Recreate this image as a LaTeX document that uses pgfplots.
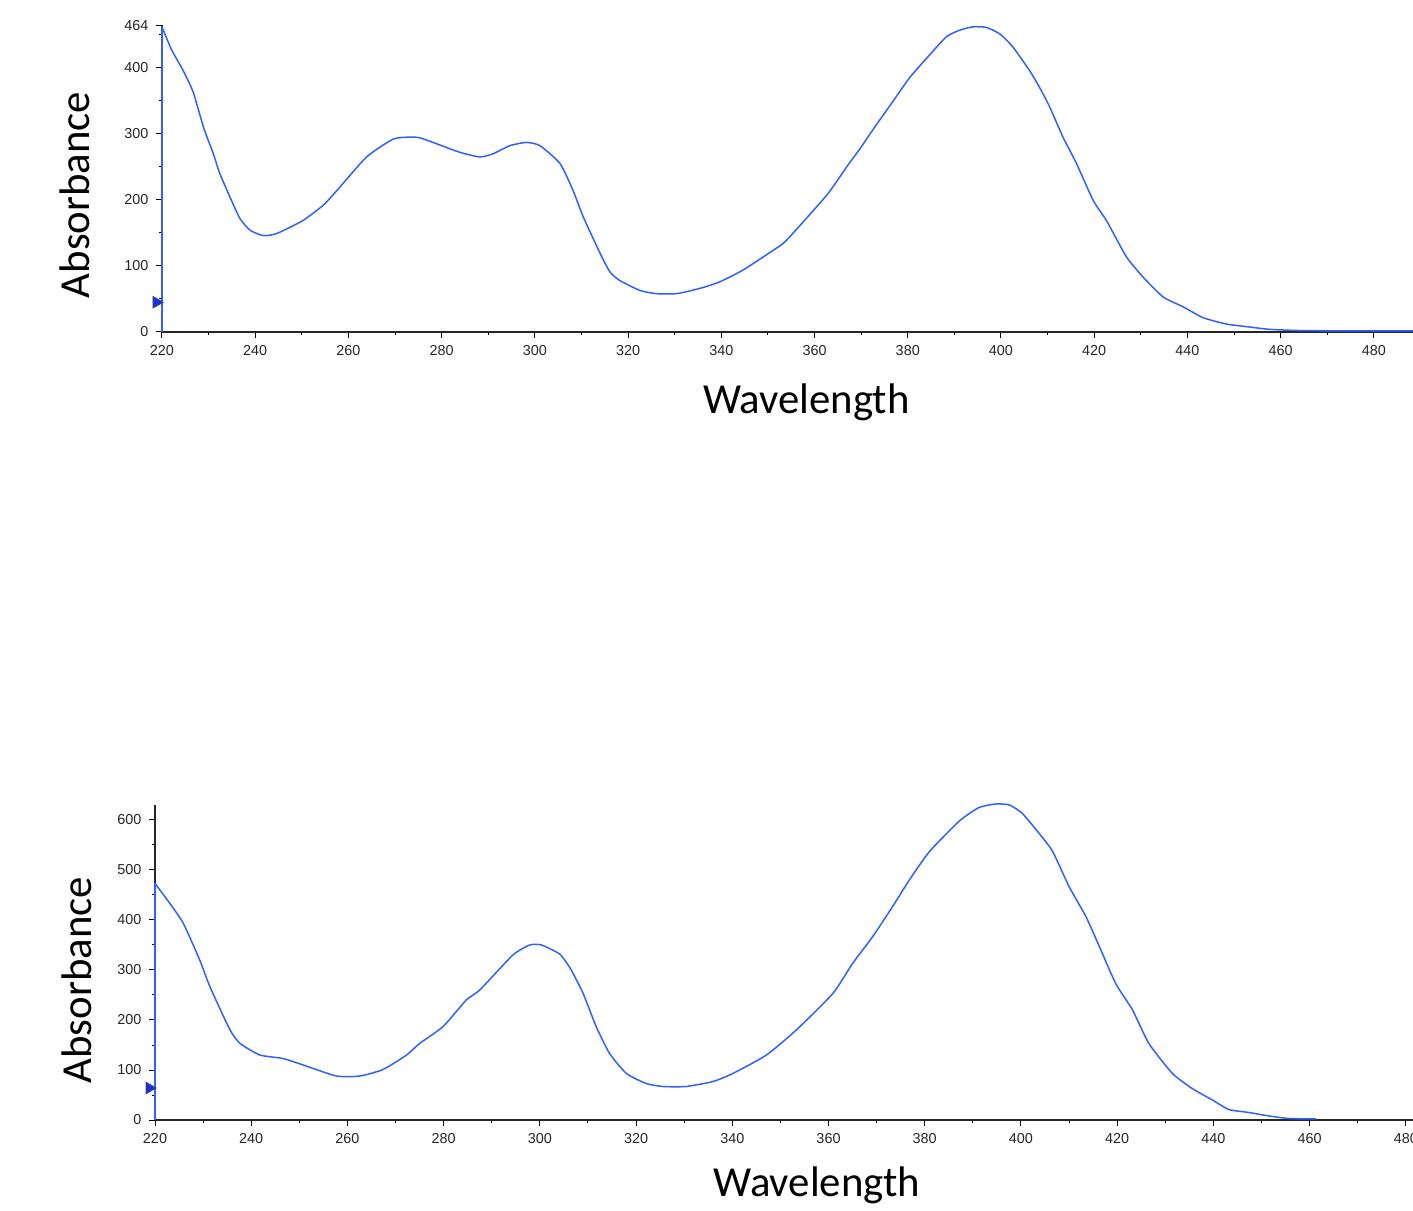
\documentclass[border=0pt]{standalone}
\usepackage{pgfplots}
\pgfplotsset{compat=1.18}
\usepackage{fontspec}
\setmainfont{Carlito}
\newfontfamily\arialf{Liberation Sans}
\definecolor{spec}{RGB}{50,95,255}
\definecolor{mk}{RGB}{20,50,230}
\pgfplotsset{
  spectrum/.style={
    scale only axis,
    axis x line*=bottom, axis y line*=left,
    axis line style={-, line width=0.7pt, black!85},
    tick align=outside,
    major tick length=2.8pt, minor tick length=1.6pt,
    every tick/.style={black, line width=0.5pt},
    tick label style={font=\arialf\fontsize{7.2}{8}\selectfont, black!85},
    /pgf/number format/assume math mode=true,
    xtick distance=20, minor x tick num=1,
    xticklabel style={yshift=-0.5pt},
    yticklabel style={xshift=-0.5pt},
    label style={font=\fontsize{21.4}{25}\selectfont},
    ymin=0, clip=false,
  },
}
\begin{document}
\begin{tikzpicture}
\useasboundingbox (0,0) rectangle (706.5pt,605pt);
% ---------- top ----------
\begin{axis}[spectrum,
  at={(81pt,439pt)}, anchor=south west,
  width=625.5pt, height=153.25pt,
  xmin=220, xmax=488.4, ymax=464,
  ytick={0,100,200,300,400,464},
  minor ytick={50,150,250,350,450},
  xlabel={Wavelength}, ylabel={Absorbance},
  xlabel style={at={(axis description cs:0.515,0)}, anchor=center, yshift=-35pt},
  ylabel style={at={(axis description cs:-0.0695,0.447)}, anchor=center},
]
\addplot[spec, line width=0.75pt] coordinates {(220,0) (220,462)};
\addplot[spec, line width=0.75pt, smooth, tension=0.35] coordinates {
(220,462) (222,428) (224.6,395) (226.7,363) (228.9,310) (231,270) (232.4,240)
(234.6,204) (236.7,172) (238.9,154) (241.7,146) (244.6,149) (250.3,169) (254.6,192)
(257.5,214) (263.9,265) (269.6,292) (273.2,295) (275.3,294) (278.9,285) (283.9,272)
(288.2,265) (291.1,270) (294.6,282) (298.2,287) (301.1,282) (305.4,255) (308.2,214)
(310.4,174) (314,119) (316.1,91) (318.2,78) (322.5,63) (326.1,58) (330.4,58) (335.4,66)
(339.7,76) (344.7,94) (351.2,124) (354,139) (362.6,207) (366.9,250) (369.7,277)
(372.6,307) (376.9,350) (380.4,385) (384,414) (388.3,447) (391.2,457) (394,462)
(396.9,461) (399.8,451) (402.6,431) (406.2,395) (408.3,370) (410.5,340) (413.3,295)
(416.2,255) (419.8,199) (422.6,169) (426.9,114) (430.5,83) (434.8,53) (439.1,38)
(443.4,21.6) (448.4,12) (453.4,7.5) (457.7,4) (465.5,2) (488.4,1.5)
};
\addplot[only marks, xshift=-2.8pt, mark=triangle*, mark size=3.4pt,
  mark options={rotate=-90, fill=mk, draw=black!70, line width=0.3pt}]
  coordinates {(220,45)};
\end{axis}
% ---------- bottom ----------
\begin{axis}[spectrum,
  at={(77.5pt,45pt)}, anchor=south west,
  width=629pt, height=157.5pt,
  xmin=220, xmax=481.5, ymax=630,
  ytick={0,100,...,600},
  minor ytick={50,150,...,550},
  xlabel={Wavelength}, ylabel={Absorbance},
  xlabel style={at={(axis description cs:0.526,0)}, anchor=center, yshift=-32.5pt},
  ylabel style={at={(axis description cs:-0.062,0.444)}, anchor=center},
]
\addplot[spec, line width=0.75pt] coordinates {(220,0) (220,473)};
\addplot[spec, line width=0.75pt, smooth, tension=0.35] coordinates {
(220,473) (223.1,433) (225.9,393) (229.3,320) (231.4,267) (235.6,180) (237.7,153)
(241.8,130) (246.6,123) (250.8,110) (257.7,88) (262.6,88) (267.4,101) (272.3,130)
(275,153) (279.9,187) (284.7,240) (287.5,260) (294.4,330) (297.9,350) (300.3,350)
(304.1,332) (306.4,302) (309,253) (311.7,187) (314.5,133) (318,93) (322.1,73) (325.6,67)
(330.4,67) (336,77) (340.1,93) (347.1,130) (353.3,180) (360.9,253) (365,313) (369.2,367)
(373.4,428) (376.8,480) (381,537) (387.2,598) (391.3,625) (394.8,632) (397.6,630)
(400.3,613) (403.8,573) (406.6,537) (410,467) (413.5,407) (416.3,347) (419.7,273)
(423.2,220) (426.6,153) (431.5,93) (435.6,63) (439.8,40) (443.2,21) (447.4,15)
(451.6,8) (455.7,3) (461.3,2)
};
\addplot[only marks, xshift=-2.8pt, mark=triangle*, mark size=3.4pt,
  mark options={rotate=-90, fill=mk, draw=black!70, line width=0.3pt}]
  coordinates {(220,64)};
\end{axis}
\end{tikzpicture}
\end{document}
